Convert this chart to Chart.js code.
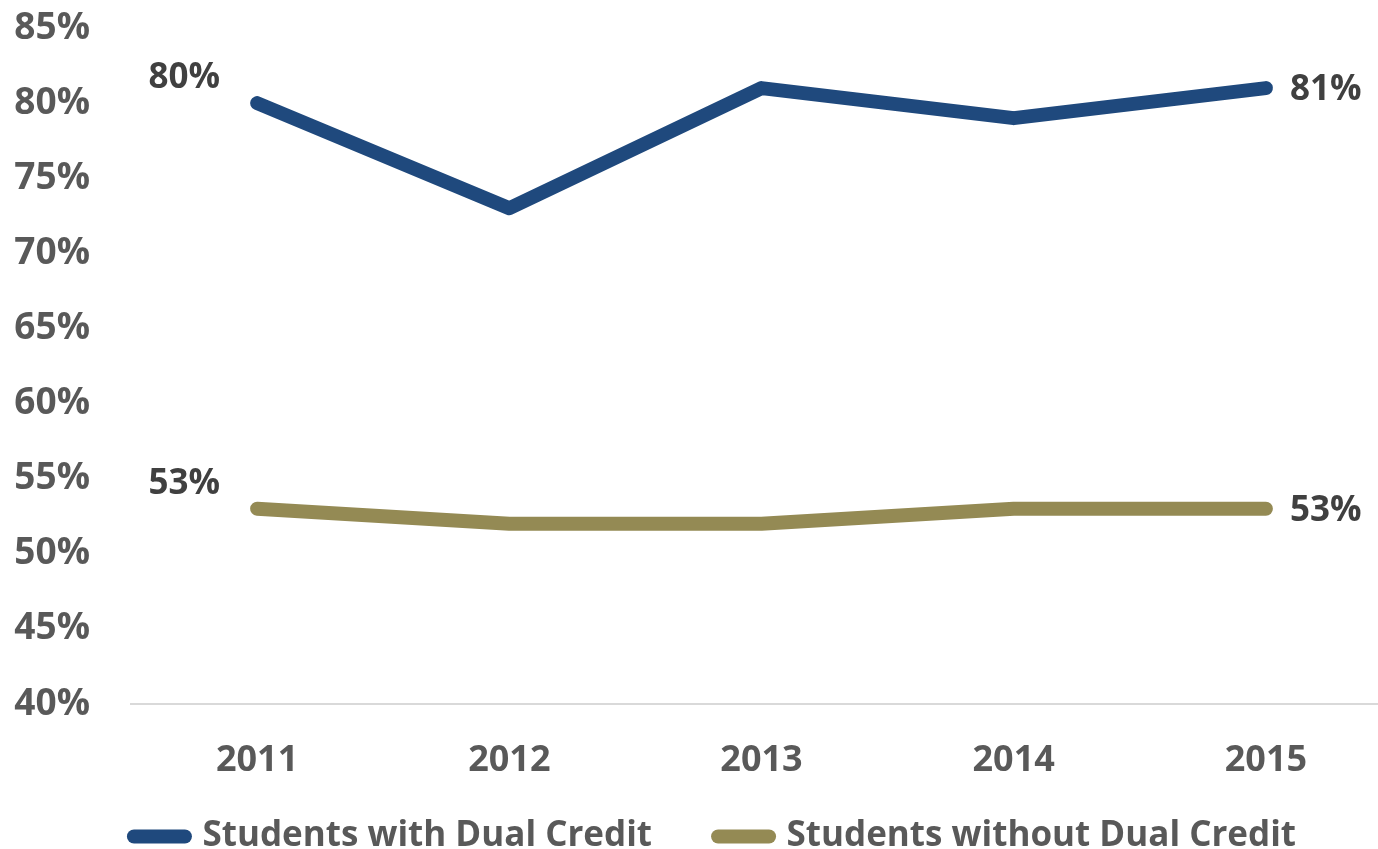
<!DOCTYPE html>
<html>
<head>
<meta charset="utf-8">
<script src="https://cdn.jsdelivr.net/npm/chart.js@4.4.1/dist/chart.umd.min.js"></script>
<style>
  html, body { margin: 0; padding: 0; background: #fff; overflow: hidden; }
  #wrap { width: 1392px; height: 864px; }
</style>
</head>
<body>
<div id="wrap"><canvas id="chart"></canvas></div>
<script>
const years = ['2011', '2012', '2013', '2014', '2015'];
const withDual = [80, 73, 81, 79, 81];
const withoutDual = [53, 52, 52, 53, 53];
const yTicks = [40, 45, 50, 55, 60, 65, 70, 75, 80, 85];

const FONT = '"Open Sans", "Liberation Sans", sans-serif';

// end labels: first point above-left, last point to the right
const endLabels = {
  id: 'endLabels',
  afterDatasetsDraw(chart) {
    const ctx = chart.ctx;
    ctx.save();
    ctx.font = 'bold 35px ' + FONT;
    ctx.fillStyle = '#404040';
    ctx.textBaseline = 'middle';
    chart.data.datasets.forEach((ds, i) => {
      const pts = chart.getDatasetMeta(i).data;
      const first = pts[0], last = pts[pts.length - 1];
      ctx.textAlign = 'right';
      ctx.fillText(ds.data[0] + '%', first.x - 37, first.y - 25);
      ctx.textAlign = 'left';
      ctx.fillText(ds.data[ds.data.length - 1] + '%', last.x + 24, last.y + 2);
    });
    ctx.restore();
  }
};

// small layout tweaks: legend a bit right, let x labels spill below their box
const layoutTweak = {
  id: 'layoutTweak',
  afterLayout(chart) {
    if (chart.legend) {
      chart.legend.left += 19;
      chart.legend.right += 19;
    }
    chart.scales.x.bottom = chart.height;
  }
};

new Chart(document.getElementById('chart'), {
  type: 'line',
  data: {
    labels: years,
    datasets: [
      {
        label: 'Students with Dual Credit',
        data: withDual,
        borderColor: '#1F497D',
        backgroundColor: '#1F497D',
        borderWidth: 14,
        borderCapStyle: 'round',
        borderJoinStyle: 'round',
        pointRadius: 0,
        tension: 0
      },
      {
        label: 'Students without Dual Credit',
        data: withoutDual,
        borderColor: '#948A54',
        backgroundColor: '#948A54',
        borderWidth: 14,
        borderCapStyle: 'round',
        borderJoinStyle: 'round',
        pointRadius: 0,
        tension: 0
      }
    ]
  },
  options: {
    responsive: true,
    maintainAspectRatio: false,
    animation: false,
    layout: { autoPadding: false, padding: { top: 28, left: 0, right: 0, bottom: 0 } },
    plugins: {
      tooltip: { enabled: false },
      legend: {
        position: 'bottom',
        align: 'center',
        labels: {
          usePointStyle: true,
          pointStyleWidth: 51,
          padding: 66,
          color: '#595959',
          font: { family: FONT, size: 35, weight: 'bold' },
          generateLabels(chart) {
            return chart.data.datasets.map((ds, i) => ({
              text: ds.label,
              datasetIndex: i,
              fillStyle: ds.borderColor,
              strokeStyle: ds.borderColor,
              lineWidth: 14,
              lineCap: 'round',
              pointStyle: 'line',
              fontColor: '#595959',
              hidden: false
            }));
          }
        }
      }
    },
    scales: {
      x: {
        offset: true,
        afterFit(scale) { scale.height = 49; },
        grid: { display: false },
        border: { display: true, color: '#d9d9d9', width: 2 },
        ticks: {
          color: '#595959',
          padding: 27,
          font: { family: FONT, size: 36, weight: 'bold' }
        }
      },
      y: {
        min: 40,
        max: 85,
        afterBuildTicks(scale) {
          scale.ticks = yTicks.map(v => ({ value: v }));
        },
        afterFit(scale) {
          scale.width = 131;
          scale.paddingTop = 0;
          scale.paddingBottom = 0;
        },
        grid: { display: false },
        border: { display: false },
        ticks: {
          color: '#595959',
          padding: 33,
          font: { family: FONT, size: 37, weight: 'bold' },
          callback: v => v + '%'
        }
      }
    }
  },
  plugins: [endLabels, layoutTweak]
});
</script>
</body>
</html>
